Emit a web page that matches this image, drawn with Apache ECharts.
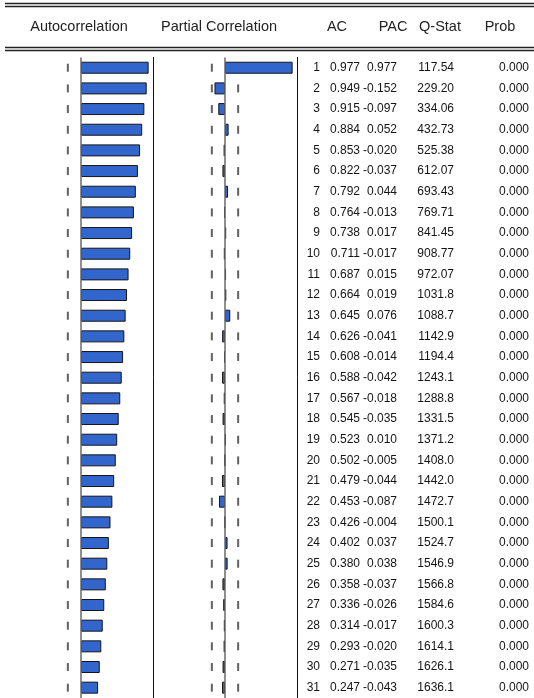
<!DOCTYPE html>
<html><head><meta charset="utf-8">
<script src="https://cdn.jsdelivr.net/npm/echarts@6/dist/echarts.min.js"></script>
<style>html,body{margin:0;padding:0;background:#fff}#c{width:534px;height:698px}</style>
</head><body><div id="c"></div>
<script>
const lags = [1,2,3,4,5,6,7,8,9,10,11,12,13,14,15,16,17,18,19,20,21,22,23,24,25,26,27,28,29,30,31];
const acValues = [0.977,0.949,0.915,0.884,0.853,0.822,0.792,0.764,0.738,0.711,0.687,0.664,0.645,0.626,0.608,0.588,0.567,0.545,0.523,0.502,0.479,0.453,0.426,0.402,0.380,0.358,0.336,0.314,0.293,0.271,0.247];
const pacValues = [0.977,-0.152,-0.097,0.052,-0.020,-0.037,0.044,-0.013,0.017,-0.017,0.015,0.019,0.076,-0.041,-0.014,-0.042,-0.018,-0.035,0.010,-0.005,-0.044,-0.087,-0.004,0.037,0.038,-0.037,-0.026,-0.017,-0.020,-0.035,-0.043];
const qStats = [117.54,229.20,334.06,432.73,525.38,612.07,693.43,769.71,841.45,908.77,972.07,1031.8,1088.7,1142.9,1194.4,1243.1,1288.8,1331.5,1371.2,1408.0,1442.0,1472.7,1500.1,1524.7,1546.9,1566.8,1584.6,1600.3,1614.1,1626.1,1636.1];
const probs = [0,0,0,0,0,0,0,0,0,0,0,0,0,0,0,0,0,0,0,0,0,0,0,0,0,0,0,0,0,0,0];
const confBound = 0.19;
const headers = ['Autocorrelation','Partial Correlation','AC','PAC','Q-Stat','Prob'];

const chart = echarts.init(document.getElementById('c'), null, {renderer:'canvas'});
const FONT = '"Liberation Sans", Arial, sans-serif';
const TXT = '#141414';
const rowTop = 57.4, rowH = 20.74;
const gridH = rowH * lags.length;
const axMax = 1.04;
const cats = lags.map(String);

function fmtQ(q){ return q >= 1000 ? q.toFixed(1) : q.toFixed(2); }

function boundData(){
  const d = [];
  lags.forEach((l,i)=>{ d.push([-confBound, i]); d.push([confBound, i]); });
  return d;
}

const zeroLine = {
  silent: true, symbol: ['none','none'], animation: false,
  label: {show:false},
  lineStyle: {color:'#6a6a6a', width:1.5, type:'solid'},
  data: [{xAxis: 0}]
};

const headerX = [79, 219, 337, 393, 440, 500];

const graphics = [];
[3.5, 6.5, 47.5, 50.5].forEach(y => {
  graphics.push({type:'line', shape:{x1:5, y1:y, x2:534, y2:y}, style:{stroke:'#222', lineWidth:1.4}, silent:true});
});
headers.forEach((h,i)=>{
  graphics.push({type:'text', x: headerX[i], y: 27, style:{text:h, font:'14.5px ' + FONT, fill:'#222', textAlign:'center', textVerticalAlign:'middle'}, silent:true});
});

const richBase = {fontSize:12, fontFamily:FONT, color:TXT, align:'right'};
const rich = {
  a: Object.assign({width:21}, richBase),
  b: Object.assign({width:40}, richBase),
  c: Object.assign({width:37}, richBase),
  d: Object.assign({width:57}, richBase),
  e: Object.assign({width:75}, richBase)
};

const option = {
  animation: false,
  backgroundColor: '#ffffff',
  graphic: graphics,
  grid: [
    {left: 9, width: 144, top: rowTop, height: gridH},
    {left: 153, width: 144, top: rowTop, height: gridH}
  ],
  xAxis: [
    {gridIndex:0, type:'value', min:-axMax, max:axMax, show:false},
    {gridIndex:1, type:'value', min:-axMax, max:axMax, show:false}
  ],
  yAxis: [
    {gridIndex:0, type:'category', data:cats, inverse:true, show:false},
    {gridIndex:0, type:'category', data:cats, inverse:true, position:'right',
      axisLine:{show:true, onZero:false, lineStyle:{color:'#111', width:1}}, axisTick:{show:false}, axisLabel:{show:false}, splitLine:{show:false}},
    {gridIndex:1, type:'category', data:cats, inverse:true, show:false},
    {gridIndex:1, type:'category', data:cats, inverse:true, position:'right',
      axisLine:{show:true, onZero:false, lineStyle:{color:'#111', width:1}}, axisTick:{show:false}, splitLine:{show:false},
      axisLabel:{show:true, margin:2, align:'left', interval:0,
        formatter:(v,i)=>`{a|${lags[i]}}{b|${acValues[i].toFixed(3)}}{c|${pacValues[i].toFixed(3)}}{d|${fmtQ(qStats[i])}}{e|${probs[i].toFixed(3)}}`,
        rich: rich}}
  ],
  series: [
    {type:'scatter', xAxisIndex:0, yAxisIndex:0, data:boundData(), symbol:'rect', symbolSize:[2,8], itemStyle:{color:'#3a3a3a'}, z:1, silent:true},
    {type:'scatter', xAxisIndex:1, yAxisIndex:2, data:boundData(), symbol:'rect', symbolSize:[2,8], itemStyle:{color:'#3a3a3a'}, z:1, silent:true},
    {type:'bar', xAxisIndex:0, yAxisIndex:0, data:acValues, barWidth:12,
      itemStyle:{color:'#3366cc', borderColor:'#151515', borderWidth:1}, z:3, markLine: zeroLine},
    {type:'bar', xAxisIndex:1, yAxisIndex:2, data:pacValues, barWidth:12,
      itemStyle:{color:'#3366cc', borderColor:'#151515', borderWidth:1}, z:3, markLine: zeroLine}
  ]
};
chart.setOption(option);
</script>
</body></html>
